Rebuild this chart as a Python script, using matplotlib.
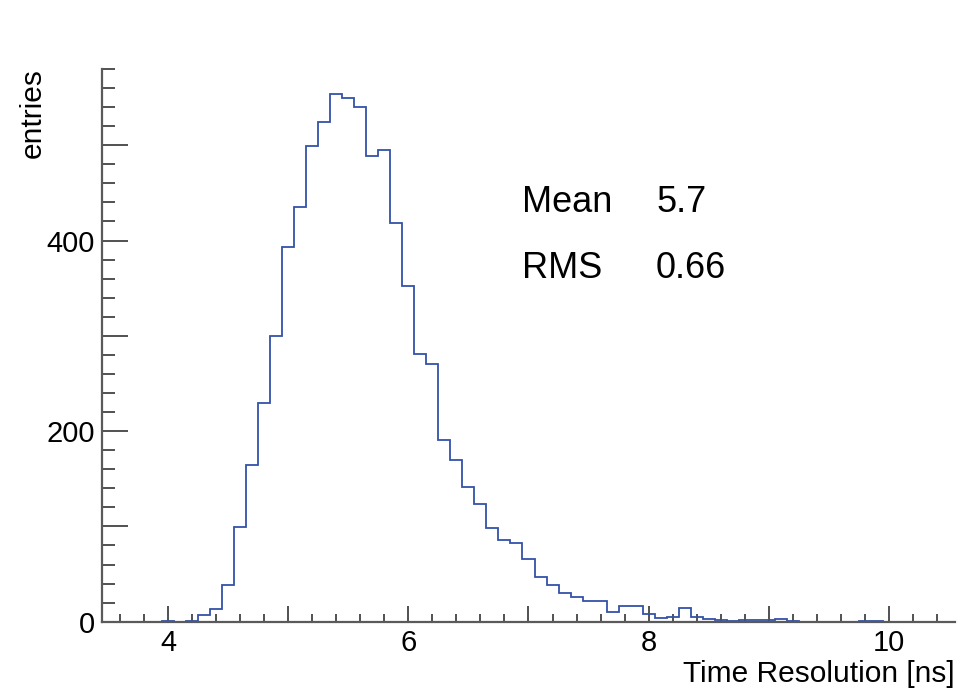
import numpy as np
import matplotlib
matplotlib.use("Agg")
import matplotlib.pyplot as plt
from matplotlib.ticker import MultipleLocator, FuncFormatter

plt.rcParams["font.family"] = ["Liberation Sans", "DejaVu Sans"]

# Time resolution histogram: 71 bins of 0.1 ns from 3.45 to 10.55 ns
bin_low = 3.45
bin_high = 10.55
bin_width = 0.1
counts = [
    0, 0, 0, 0, 0, 1, 0, 1, 7, 13,            # 3.5 - 4.4
    38, 99, 164, 229, 300, 393, 435, 499, 524, 554,   # 4.5 - 5.4
    550, 540, 489, 495, 418, 352, 281, 270, 191, 170,  # 5.5 - 6.4
    141, 123, 98, 86, 83, 66, 47, 38, 30, 26,  # 6.5 - 7.4
    22, 22, 10, 16, 16, 8, 4, 5, 14, 5,        # 7.5 - 8.4
    3, 2, 1, 2, 2, 2, 3, 1, 0, 0,              # 8.5 - 9.4
    0, 0, 0, 1, 1, 0, 0, 0, 0, 0,              # 9.5 - 10.4
    0,                                         # 10.5
]
mean_text = "5.7"
rms_text = "0.66"
x_title = "Time Resolution [ns]"
y_title = "entries"

edges = np.round(np.arange(len(counts) + 1) * bin_width + bin_low, 3)

fig = plt.figure(figsize=(9.6, 6.92), dpi=100)
ax = fig.add_axes([102 / 960, 70.3 / 692, 853 / 960, 552.7 / 692])

ax.stairs(counts, edges, color="#3352a8", linewidth=1.3, baseline=None, zorder=2)

ax.set_xlim(bin_low, bin_high)
ax.set_ylim(0, 580)

for side in ("top", "right"):
    ax.spines[side].set_visible(False)
for side in ("left", "bottom"):
    ax.spines[side].set_color("#5a5a5a")
    ax.spines[side].set_linewidth(1.6)
    ax.spines[side].set_zorder(3)

ax.xaxis.set_major_locator(MultipleLocator(1))
ax.xaxis.set_minor_locator(MultipleLocator(0.2))
ax.yaxis.set_major_locator(MultipleLocator(100))
ax.yaxis.set_minor_locator(MultipleLocator(20))

ax.xaxis.set_major_formatter(FuncFormatter(
    lambda v, p: f"{v:.0f}" if abs(v / 2 - round(v / 2)) < 1e-6 else ""))
ax.yaxis.set_major_formatter(FuncFormatter(
    lambda v, p: f"{v:.0f}" if abs(v / 200 - round(v / 200)) < 1e-6 else ""))

ax.tick_params(axis="x", which="major", direction="in", length=11.5, width=1.2,
               color="#333333", labelsize=21, pad=5)
ax.tick_params(axis="x", which="minor", direction="in", length=5.8, width=1.2,
               color="#333333")
ax.tick_params(axis="y", which="major", direction="in", length=18.5, width=1.2,
               color="#333333", labelsize=21, pad=5)
ax.tick_params(axis="y", which="minor", direction="in", length=9.3, width=1.2,
               color="#333333")

# Statistics text
fig.text(522 / 960, (692 - 212) / 692, "Mean", fontsize=26, va="baseline", ha="left")
fig.text(656 / 960, (692 - 212) / 692, mean_text, fontsize=26, va="baseline", ha="left")
fig.text(522 / 960, (692 - 278) / 692, "RMS", fontsize=26, va="baseline", ha="left")
fig.text(656 / 960, (692 - 278) / 692, rms_text, fontsize=26, va="baseline", ha="left")

# Axis titles in ROOT style: right-aligned x title, top-aligned y title
fig.text(955 / 960, (692 - 682) / 692, x_title, fontsize=21.5, va="baseline", ha="right")
fig.text(33 / 960, (692 - 68) / 692, y_title, fontsize=21.5, va="top", ha="center",
         rotation=90)

fig.savefig("out.png", dpi=100)
